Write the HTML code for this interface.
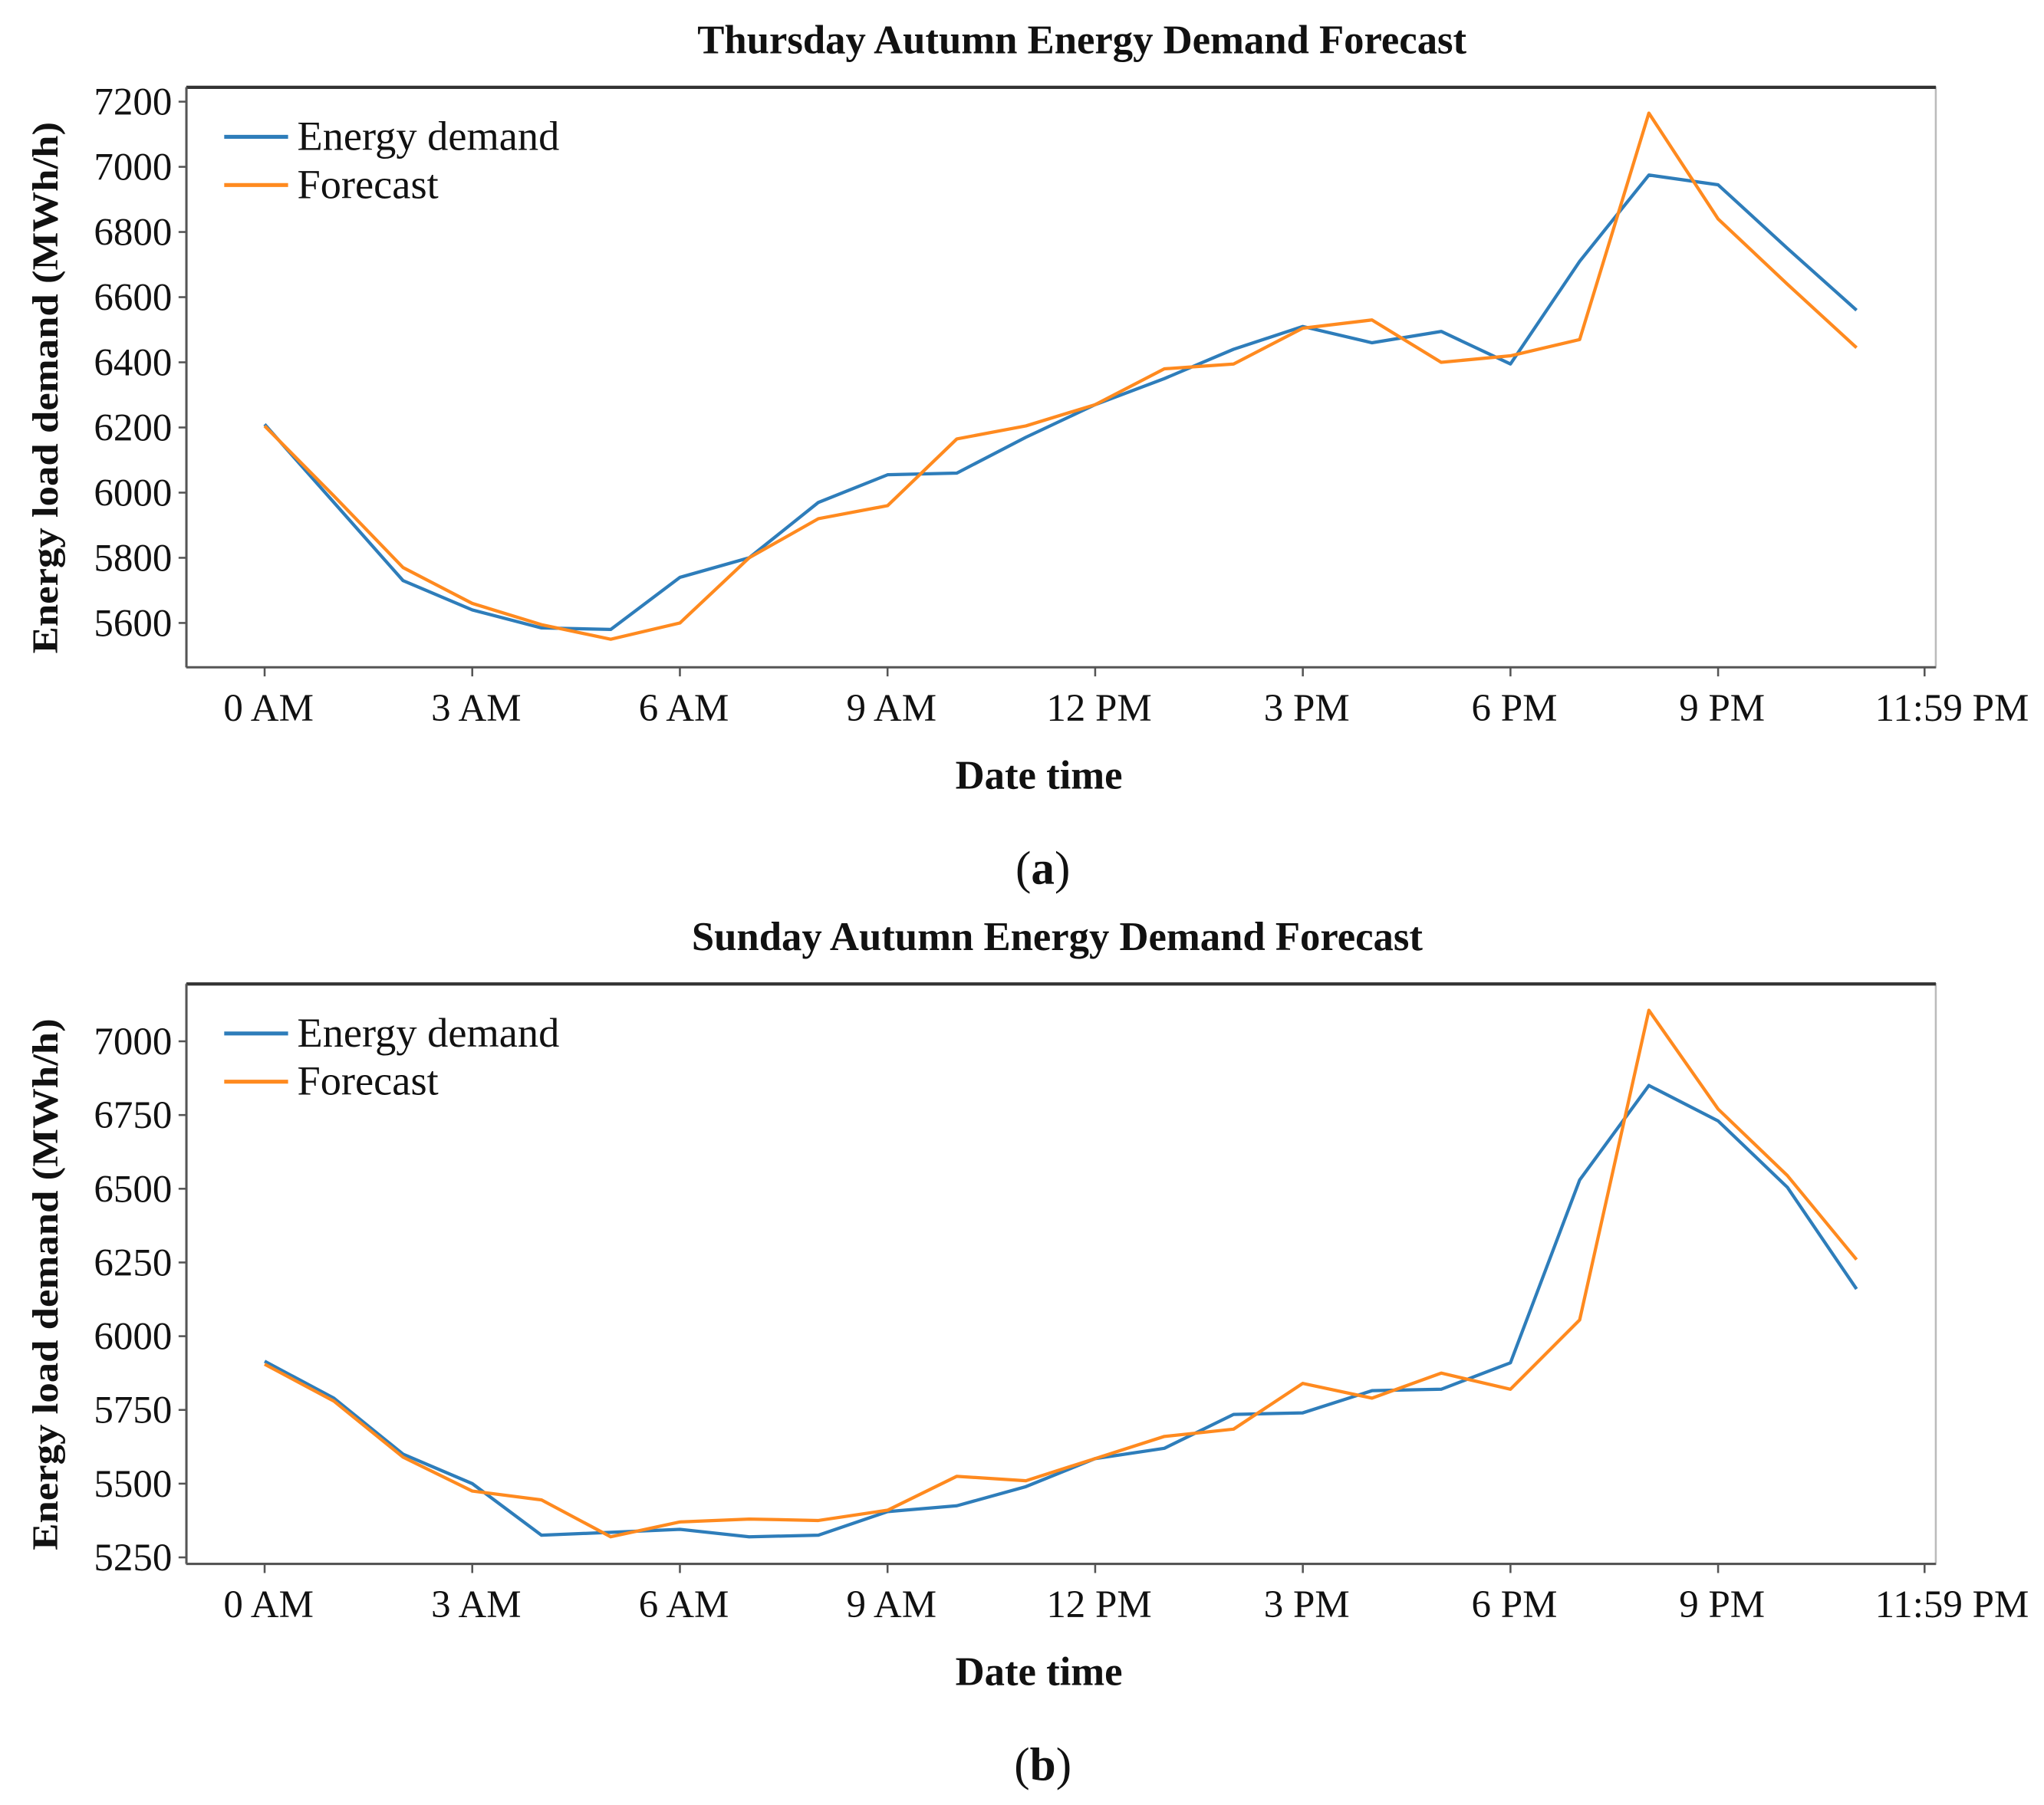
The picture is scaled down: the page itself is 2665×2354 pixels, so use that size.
<!DOCTYPE html>
<html><head><meta charset="utf-8"><style>
html,body{margin:0;padding:0;background:#fff;}
svg{display:block;}
text{font-family:"Liberation Serif",serif;fill:#111;}
</style></head><body>
<svg id="chart" width="2665" height="2354" viewBox="0 0 1568 1385" xmlns="http://www.w3.org/2000/svg"></svg>
<script>
const hours = [0,1,2,3,4,5,6,7,8,9,10,11,12,13,14,15,16,17,18,19,20,21,22,23];
const xTickHours = [0,3,6,9,12,15,18,21,23.983];
const xTickLabels = ["0 AM","3 AM","6 AM","9 AM","12 PM","3 PM","6 PM","9 PM","11:59 PM"];
const demandA = [6210,5970,5730,5640,5585,5580,5740,5800,5970,6055,6060,6170,6270,6350,6440,6510,6460,6495,6395,6710,6975,6945,6750,6560];
const forecastA = [6205,5990,5770,5660,5595,5550,5600,5800,5920,5960,6165,6205,6270,6380,6395,6505,6530,6400,6420,6470,7165,6840,6640,6445];
const yTicksA = [5600,5800,6000,6200,6400,6600,6800,7000,7200];
const demandB = [5915,5790,5600,5500,5325,5335,5345,5320,5325,5405,5425,5490,5585,5620,5735,5740,5815,5820,5910,6530,6850,6730,6505,6160];
const forecastB = [5905,5780,5590,5475,5445,5320,5370,5380,5375,5410,5525,5510,5585,5660,5685,5840,5790,5875,5820,6055,7105,6770,6545,6260];
const yTicksB = [5250,5500,5750,6000,6250,6500,6750,7000];

const NS="http://www.w3.org/2000/svg";
const svg=document.getElementById('chart');
function mk(tag,attrs,parent){const e=document.createElementNS(NS,tag);for(const k in attrs)e.setAttribute(k,attrs[k]);(parent||svg).appendChild(e);return e;}

function panel(cfg){
  const g=mk('g',{});
  
  
  const L=143,R=1485,T=cfg.top,B=cfg.top+445;
  const xs=h=>203+h*(1318-203)/21;
  const ys=v=>cfg.y0px+(v-cfg.v0)*(cfg.y1px-cfg.y0px)/(cfg.v1-cfg.v0);
  const t=mk('text',{x:cfg.tx,y:T-26,'text-anchor':'middle','font-size':31,'font-weight':'bold'},g);
  t.textContent=cfg.title;
  
  
  const box=mk('rect',{x:L,y:T,width:R-L,height:B-T,fill:'#fff',stroke:'#bbb','stroke-width':1.5},g);
  
  
  mk('line',{x1:L,y1:T,x2:R,y2:T,stroke:'#333','stroke-width':2.5},g);
  const xa=mk('line',{x1:L,y1:B,x2:R,y2:B,stroke:'#555','stroke-width':1.8},g);
  
  
  const ya=mk('line',{x1:L,y1:T,x2:L,y2:B,stroke:'#555','stroke-width':1.8},g);
  
  
  xTickHours.forEach((h,i)=>{
    const x=xs(h);
    mk('line',{x1:x,y1:B,x2:x,y2:B+7,stroke:'#555','stroke-width':1.5},g);
    const tx=mk('text',{x:x+(i==8?21:3),y:B+41,'text-anchor':'middle','font-size':30},g);
    tx.textContent=xTickLabels[i];
    
    
  });
  cfg.yTicks.forEach(v=>{
    const y=ys(v);
    mk('line',{x1:L-6,y1:y,x2:L,y2:y,stroke:'#555','stroke-width':1.5},g);
    const ty=mk('text',{x:L-11,y:y+10,'text-anchor':'end','font-size':30},g);
    ty.textContent=v;
    
    
  });
  const xl=mk('text',{x:797,y:B+93,'text-anchor':'middle','font-size':31,'font-weight':'bold'},g);
  xl.textContent='Date time';
  
  
  const cy=(T+B)/2+8;
  const yl=mk('text',{x:0,y:0,'text-anchor':'middle','font-size':28,'font-weight':'bold',textLength:408,lengthAdjust:'spacingAndGlyphs',transform:`translate(44,${cy}) rotate(-90)`},g);
  yl.textContent='Energy load demand (MWh/h)';
  
  
  [[cfg.demand,'#2e7dba','energy-demand-line'],[cfg.forecast,'#ff8a1f','forecast-line']].forEach(s=>{
    const d=hours.map((h,i)=>(i?'L':'M')+xs(h).toFixed(1)+','+ys(s[0][i]).toFixed(1)).join(' ');
    const p=mk('path',{d:d,fill:'none',stroke:s[1],'stroke-width':2.5,'stroke-linejoin':'round'},g);
    
    
  });
  [['Energy demand','#2e7dba',T+38],['Forecast','#ff8a1f',T+75]].forEach(e=>{
    const lg=mk('g',{},g);
    
    
    mk('line',{x1:172,y1:e[2],x2:221,y2:e[2],stroke:e[1],'stroke-width':3},lg);
    const lt=mk('text',{x:228,y:e[2]+10,'font-size':32},lg);
    lt.textContent=e[0];
  });
  const cap=mk('text',{x:800,y:B+166,'text-anchor':'middle','font-size':36},g);
  cap.innerHTML='(<tspan font-weight="bold">'+cfg.cap+'</tspan>)';
  
  
}
panel({name:'thursday-chart',tx:830,title:'Thursday Autumn  Energy Demand Forecast',top:67,v0:5600,y0px:478,v1:7200,y1px:78,yTicks:yTicksA,demand:demandA,forecast:forecastA,cap:'a'});
panel({name:'sunday-chart',tx:811,title:'Sunday Autumn Energy Demand Forecast',top:755,v0:5250,y0px:1195,v1:7000,y1px:799,yTicks:yTicksB,demand:demandB,forecast:forecastB,cap:'b'});
</script>
</body></html>
